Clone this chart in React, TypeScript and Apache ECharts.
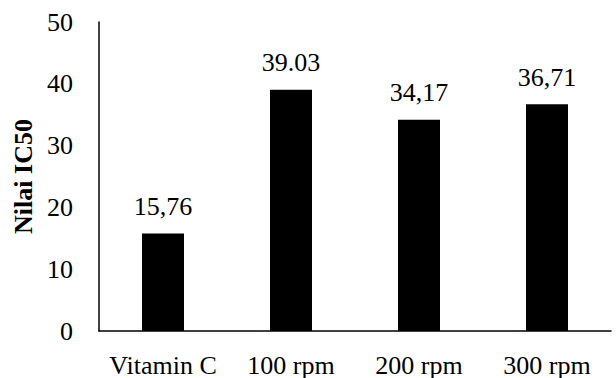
import React, { useEffect, useRef } from "react";
import * as echarts from "echarts";

const categories = ["Vitamin C", "100 rpm", "200 rpm", "300 rpm"];
const values = [15.76, 39.03, 34.17, 36.71];
const valueLabels = ["15,76", "39.03", "34,17", "36,71"];
const yTicks = { min: 0, max: 50, interval: 10 };

const FONT = "'Liberation Serif', 'DejaVu Serif', serif";

export default function App() {
  const ref = useRef<HTMLDivElement>(null);

  useEffect(() => {
    if (!ref.current) return;
    const chart = echarts.init(ref.current, undefined, { renderer: "svg" });
    chart.setOption({
      animation: false,
      backgroundColor: "#ffffff",
      grid: {
        left: 99,
        right: 5,
        top: 22,
        bottom: 47,
        containLabel: false,
        outerBoundsMode: "none",
      },
      xAxis: {
        type: "category",
        data: categories,
        axisLine: { show: true, lineStyle: { color: "#000", width: 1.5 } },
        axisTick: { show: false },
        axisLabel: { color: "#000", fontFamily: FONT, fontSize: 26, margin: 21, interval: 0 },
      },
      yAxis: {
        type: "value",
        min: yTicks.min,
        max: yTicks.max,
        interval: yTicks.interval,
        name: "Nilai IC50",
        nameLocation: "middle",
        nameGap: 63,
        nameTextStyle: { color: "#000", fontFamily: FONT, fontSize: 26, fontWeight: "bold" },
        axisLine: { show: true, lineStyle: { color: "#000", width: 1.5 } },
        axisTick: { show: false },
        splitLine: { show: false },
        axisLabel: { color: "#000", fontFamily: FONT, fontSize: 26, margin: 26 },
      },
      series: [
        {
          type: "bar",
          data: values,
          barWidth: 42,
          itemStyle: { color: "#000" },
          label: {
            show: true,
            position: "top",
            distance: 14,
            color: "#000",
            fontFamily: FONT,
            fontSize: 26,
            formatter: (p: any) => valueLabels[p.dataIndex],
          },
        },
      ],
    });
    return () => chart.dispose();
  }, []);

  return (
    <div
      ref={ref}
      style={{ position: "fixed", left: 0, top: 0, width: 616, height: 378, background: "#fff" }}
    />
  );
}
